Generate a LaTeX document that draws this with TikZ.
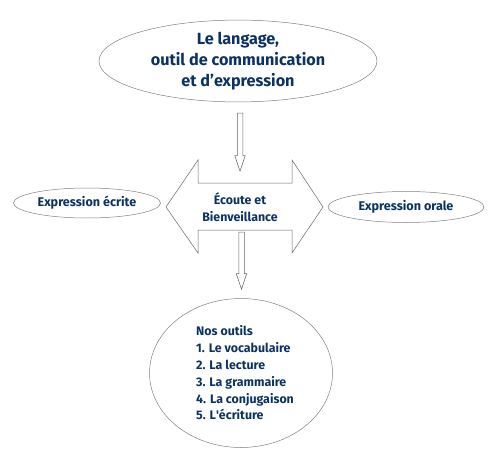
\documentclass[tikz,border=0pt]{standalone}
\usepackage{fontspec}
\setmainfont{Fira Sans}
\usepackage{xcolor}
\usetikzlibrary{shapes.geometric,shapes.arrows,positioning}
\definecolor{navy}{RGB}{12,50,98}

\begin{document}
\begin{tikzpicture}[
  x=1pt, y=-1pt,
  bubble/.style={draw=gray, line width=0.5pt, ellipse, inner sep=0pt, text=navy, font=\bfseries, align=center},
  downarrow/.style={draw=gray!80!black, line width=0.5pt, single arrow, shape border rotate=270,
    inner sep=2.5pt, minimum width=10pt, single arrow head extend=2.5pt, single arrow tip angle=37},
]
\useasboundingbox (0,0) rectangle (500,457);
% nodes
\node[bubble, minimum width=278pt, minimum height=78pt, font=\bfseries\fontsize{16.2}{21}\selectfont]
  (lang) at (238,61) {Le langage,\\outil de communication\\et d'expression};
\node[bubble, minimum width=147pt, minimum height=30pt, font=\bfseries\fontsize{12.6}{14}\selectfont]
  (ecrite) at (87,203) {Expression écrite};
\node[bubble, minimum width=156pt, minimum height=31pt, font=\bfseries\fontsize{12.6}{14}\selectfont]
  (orale) at (406,207) {Expression orale};
\node[bubble, minimum width=183pt, minimum height=149pt] (outils) at (241,373) {};
\node[text=navy, align=left, font=\bfseries\fontsize{12.4}{16.8}\selectfont] (liste) at ([xshift=4pt]outils)
  {Nos outils\\1. Le vocabulaire\\2. La lecture\\3. La grammaire\\4. La conjugaison\\5. L\textquotesingle écriture};
% the double arrow in the middle
\draw[gray!80!black, line width=0.5pt] (166,207) -- (198,160) -- (198,183) -- (292,183) -- (292,160)
  -- (323,207) -- (292,253) -- (292,230) -- (198,230) -- (198,253) -- cycle;
\node[text=navy, align=center, font=\bfseries\fontsize{12.4}{17}\selectfont] (ecoute) at (240,207)
  {Écoute et\\Bienveillance};
% hollow down arrows
\node[downarrow, minimum height=58pt, anchor=tip] (down1) at (240,172) {};
\node[downarrow, minimum height=57pt, anchor=tip] (down2) at (241.5,290) {};
\end{tikzpicture}
\end{document}
